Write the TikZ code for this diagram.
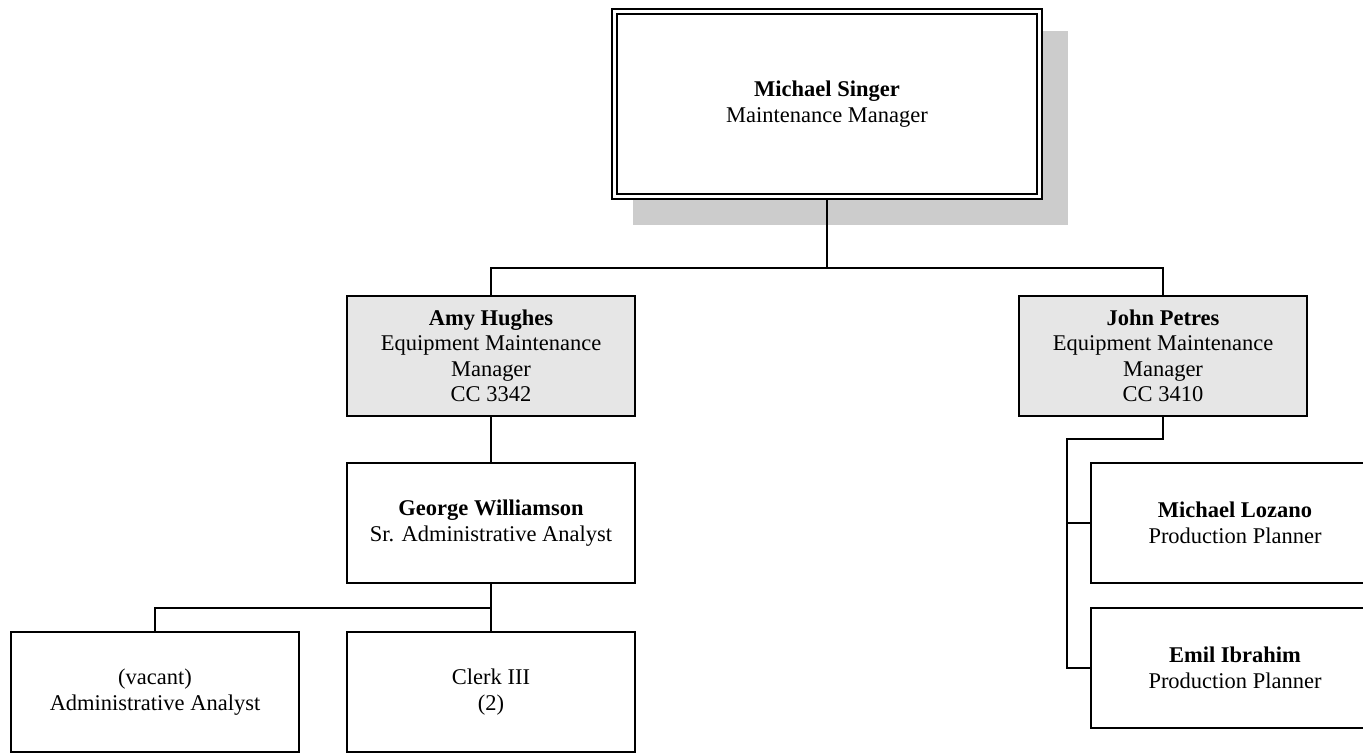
\documentclass[tikz,border=0pt]{standalone}
\usepackage{fontspec}
\setmainfont{Liberation Serif}
\usepackage{tikz}
\definecolor{orgshade}{RGB}{204,204,204}
\definecolor{mgrfill} {RGB}{230,230,230}
\definecolor{orgline} {RGB}{0,0,0}
\tikzset{
  % Plain position box
  posbox/.style={rectangle, draw=orgline, line width=1.2pt, fill=#1,
                 align=center, font=\fontsize{12.8}{14.5}\selectfont,
                 minimum width=5.76cm, minimum height=2.4cm, inner sep=2pt},
  posbox/.default=white,
  % Manager variant (grey fill)
  mgrbox/.style={posbox=mgrfill},
  % Head of the chart, double frame
  headbox/.style={posbox, double, double distance=1.5pt, line width=1.1pt,
                  outer sep=1.85pt, minimum width=8.51cm, minimum height=3.71cm},
  % Connectors
  link/.style={draw=orgline, line width=1.1pt},
}

\begin{document}
\begin{tikzpicture}[x=0.02cm,y=-0.02cm]
    \useasboundingbox (0,0) rectangle (1363,753);

    %% ── Head ───────────────────────────────────────────────
    \fill[orgshade] (633,31) rectangle (1068,225);
    \node[headbox] (singer) at (827,104)
         {\textbf{Michael Singer}\\Maintenance Manager};

    %% ── Managers ───────────────────────────────────────────
    \node[mgrbox] (hughes) at (491,356)
         {\textbf{Amy Hughes}\\Equipment Maintenance\\Manager\\CC 3342};
    \node[mgrbox] (petres) at (1163,356)
         {\textbf{John Petres}\\Equipment Maintenance\\Manager\\CC 3410};

    %% ── Staff under Amy Hughes ─────────────────────────────
    \node[posbox] (williamson) at (491,523)
         {\textbf{George Williamson}\\Sr. Administrative Analyst};
    \node[posbox] (vacant) at (155,692) {(vacant)\\Administrative Analyst};
    \node[posbox] (clerk)  at (491,692) {Clerk III\\(2)};

    %% ── Planners under John Petres ─────────────────────────
    \node[posbox] (lozano)  at (1235,523)
         {\textbf{Michael Lozano}\\Production Planner};
    \node[posbox] (ibrahim) at (1235,668)
         {\textbf{Emil Ibrahim}\\Production Planner};

    %% ── Connectors ─────────────────────────────────────────
    \coordinate (topbus)     at (827,268);
    \coordinate (staffbus)   at (491,608);
    \coordinate (plannerbus) at (1067,439);

    \draw[link] (singer.south) -- (topbus);
    \draw[link] (hughes.north) |- (topbus) -| (petres.north);
    \draw[link] (hughes.south) -- (williamson.north);
    \draw[link] (williamson.south) -- (clerk.north);
    \draw[link] (vacant.north) |- (staffbus);
    \draw[link] (petres.south) |- (plannerbus)
                -- (plannerbus |- ibrahim.west) -- (ibrahim.west);
    \draw[link] (plannerbus |- lozano.west) -- (lozano.west);

\end{tikzpicture}
\end{document}
